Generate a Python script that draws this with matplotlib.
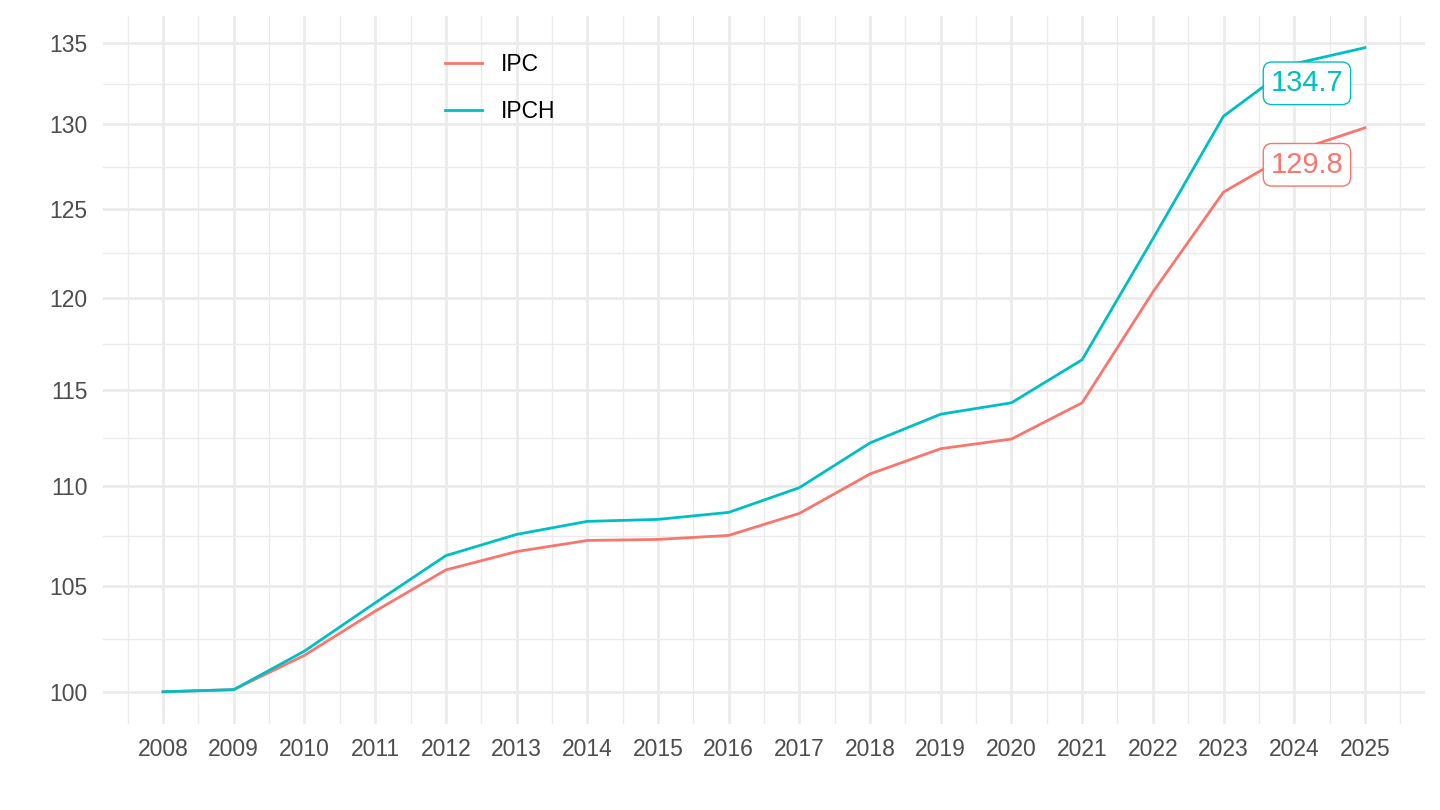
import matplotlib
matplotlib.use("Agg")
import matplotlib.pyplot as plt
from matplotlib.ticker import FixedLocator, NullFormatter, FixedFormatter
import numpy as np

plt.rcParams['font.family'] = ['Liberation Sans', 'DejaVu Sans']

years = list(range(2008, 2026))
ipc = [100.0, 100.1, 101.7, 103.8, 105.8, 106.7, 107.25, 107.3, 107.5, 108.6,
       110.6, 111.9, 112.4, 114.3, 120.3, 126.0, 128.4, 129.8]
ipch = [100.0, 100.1, 101.9, 104.2, 106.5, 107.55, 108.2, 108.3, 108.65, 109.9,
        112.2, 113.7, 114.3, 116.6, 123.3, 130.5, 133.7, 134.7]
series_names = ["IPC", "IPCH"]
colors = ["#F8766D", "#00BFC4"]
y_ticks = [100, 105, 110, 115, 120, 125, 130, 135]

fig = plt.figure(figsize=(14.4, 8.1), dpi=100)
ax = fig.add_axes([103/1440, 1 - 724/810, (1425-103)/1440, (724-15.5)/810])

ax.set_yscale('log')
lo, hi = np.log(100), np.log(134.7)
r = hi - lo
ax.set_ylim(np.exp(lo - 0.05*r), np.exp(hi + 0.05*r))
ax.set_xlim(2008 - 0.05*17, 2025 + 0.05*17)

ax.yaxis.set_major_locator(FixedLocator(y_ticks))
ax.yaxis.set_major_formatter(FixedFormatter([str(t) for t in y_ticks]))
lt = np.log(y_ticks)
minor_y = list(np.exp((lt[:-1] + lt[1:]) / 2))
ax.yaxis.set_minor_locator(FixedLocator(minor_y))
ax.yaxis.set_minor_formatter(NullFormatter())
ax.set_xticks(years)
ax.set_xticks([y + 0.5 for y in range(2007, 2026)], minor=True)

ax.grid(which='major', color='#EBEBEB', linewidth=2.0)
ax.grid(which='minor', color='#EBEBEB', linewidth=1.0)
ax.set_axisbelow(True)
for s in ax.spines.values():
    s.set_visible(False)
ax.tick_params(which='both', length=0)
ax.tick_params(axis='both', labelsize=16.5, labelcolor='#4D4D4D')
ax.tick_params(axis='y', pad=11)
ax.tick_params(axis='x', pad=10)

for vals, name, c in zip([ipc, ipch], series_names, colors):
    ax.plot(years, vals, color=c, linewidth=2.0, label=name)

# labels for last values
label_pos = [(2024.18, 127.6), (2024.18, 132.5)]
for vals, c, (lx, ly) in zip([ipc, ipch], colors, label_pos):
    ax.text(lx, ly, f"{vals[-1]:.1f}", color=c, fontsize=21, ha='center', va='center',
            bbox=dict(boxstyle='round,pad=0.25,rounding_size=0.3', fc='white', ec=c, lw=1.0))

leg = ax.legend(loc='upper left', bbox_to_anchor=(445/1440, 1 - 53/810),
                bbox_transform=fig.transFigure, frameon=False, fontsize=16.5,
                handlelength=1.6, handletextpad=0.85, labelspacing=1.05,
                borderpad=0, borderaxespad=0)

fig.savefig("out.png", dpi=100)
